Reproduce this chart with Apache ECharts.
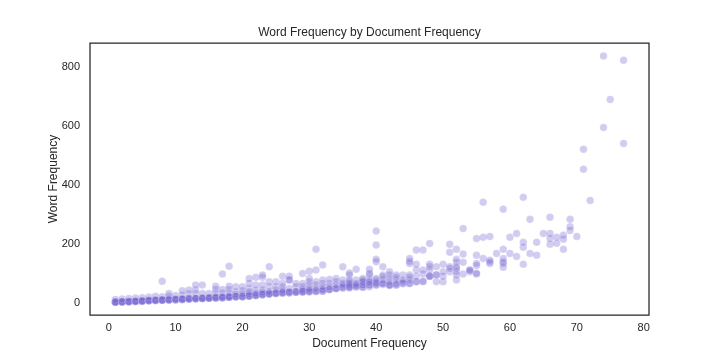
<!DOCTYPE html>
<html><head><meta charset="utf-8">
<script src="https://cdn.jsdelivr.net/npm/echarts@6/dist/echarts.min.js"></script>
<style>html,body{margin:0;padding:0;background:#fff}#c{width:720px;height:360px}</style>
</head><body><div id="c"></div>
<script>
const chartTitle = 'Word Frequency by Document Frequency';
const xLabel = 'Document Frequency';
const yLabel = 'Word Frequency';
const xTicks = [0, 10, 20, 30, 40, 50, 60, 70, 80];
const yTicks = [0, 200, 400, 600, 800];
// document frequency (x) for each column of points
const docFreq = [
  1, 2, 3, 4, 5, 6, 7, 8, 9, 10,
  11, 12, 13, 14, 15, 16, 17, 18, 19, 20,
  21, 22, 23, 24, 25, 26, 27, 28, 29, 30,
  31, 32, 33, 34, 35, 36, 37, 38, 39, 40,
  41, 42, 43, 44, 45, 46, 47, 48, 49, 50,
  51, 52, 53, 54, 55, 56, 57, 58, 59, 60,
  61, 62, 63, 64, 65, 66, 67, 68, 69, 70,
  71, 72, 74, 75, 77
];
// word frequencies of the words sharing each document frequency
const wordFreq = [
  [1,1,1,1,2,11],
  [2,2,2,2,3,12],
  [3,3,3,3,4,14],
  [4,4,4,4,5,16],
  [5,5,5,5,6,17],
  [6,6,6,6,8,19],
  [7,7,7,7,9,22],
  [8,8,8,8,10,20,73],
  [9,9,9,9,11,22,31],
  [10,10,10,10,12,24],
  [11,11,11,11,13,26,40],
  [12,12,12,12,14,30,43],
  [13,13,13,13,15,31,43,60],
  [14,14,14,14,16,31,60],
  [15,15,15,15,17,31],
  [16,16,16,16,19,32,45,56],
  [17,17,17,17,20,33,45,97],
  [18,18,18,18,21,33,45,56,124],
  [20,20,20,20,28,37,54],
  [20,20,20,22,30,40,54],
  [22,22,22,24,30,37,48,65,82],
  [24,24,24,26,32,43,60,86],
  [27,27,27,29,35,43,60,86,94],
  [29,29,29,31,37,54,71,122],
  [31,31,31,33,43,54,71],
  [33,33,33,35,43,54,65,90],
  [34,34,34,37,48,77,77,90],
  [35,35,35,38,54,65],
  [36,36,36,39,45,54,65,99],
  [37,37,38,42,48,60,71,82,107],
  [38,38,40,48,60,71,111,181],
  [39,39,43,45,54,65,77,128],
  [45,45,45,54,65,79],
  [48,48,48,60,71,82],
  [50,50,54,60,65,77,122],
  [50,52,52,56,60,65,71,77,94,101],
  [52,56,56,60,65,77,113],
  [52,52,60,60,68,71,77,82],
  [54,60,60,68,71,77,94,99,113],
  [60,60,65,68,77,82,139,147,196,243],
  [62,65,65,77,88,94,122],
  [58,60,60,71,82,94,105],
  [60,60,65,77,86,94],
  [65,65,71,77,94],
  [65,65,77,86,94,133,140,150],
  [71,71,90,111,130,179],
  [71,73,97,111,179],
  [90,90,90,111,122,130,201],
  [71,94,95,122],
  [71,90,105,130],
  [105,116,122,171,198],
  [77,94,105,116,122,137,147,181],
  [97,137,165,252],
  [105,110,111],
  [97,100,126,133,161,218],
  [150,222,341],
  [133,138,144,225],
  [167],
  [120,133,138,150,181,317],
  [167,222],
  [157,235],
  [130,188,205,358],
  [167,283],
  [161,205],
  [235],
  [198,218,235,290],
  [202,222],
  [181,215,229],
  [245,258,283],
  [225],
  [453,521],
  [347],
  [595,838],
  [690],
  [541,823]
];

const points = [];
docFreq.forEach((d, i) => wordFreq[i].forEach(w => points.push([d, w])));

const textColor = '#262626';
const font = 'Liberation Sans, Arial, sans-serif';
const chart = echarts.init(document.getElementById('c'), null, {renderer: 'canvas'});
chart.setOption({
  animation: false,
  backgroundColor: '#ffffff',
  title: {
    text: chartTitle, left: 369.5, top: 27, textAlign: 'center', padding: 0,
    textStyle: {fontFamily: font, fontSize: 12, fontWeight: 'normal', color: textColor}
  },
  grid: {
    left: 90, right: 71, top: 43, bottom: 45, show: true,
    borderColor: textColor, borderWidth: 1.25, backgroundColor: 'transparent'
  },
  xAxis: {
    type: 'value', min: -2.8, max: 80.8,
    axisLine: {show: false}, axisTick: {show: false}, splitLine: {show: false},
    axisLabel: {customValues: xTicks, margin: 7, fontFamily: font, fontSize: 11, color: textColor},
    name: xLabel, nameLocation: 'middle', nameGap: 23, nameMoveOverlap: false,
    nameTextStyle: {fontFamily: font, fontSize: 12, color: textColor}
  },
  yAxis: {
    type: 'value', min: -42, max: 882,
    axisLine: {show: false}, axisTick: {show: false}, splitLine: {show: false},
    axisLabel: {customValues: yTicks, margin: 10, fontFamily: font, fontSize: 11, color: textColor},
    name: yLabel, nameLocation: 'middle', nameGap: 30, nameMoveOverlap: false,
    nameTextStyle: {fontFamily: font, fontSize: 12, color: textColor}
  },
  series: [{
    type: 'scatter',
    data: points,
    symbolSize: 7.5,
    itemStyle: {color: '#6A5ACD', opacity: 0.3, borderColor: '#ffffff', borderWidth: 0.5},
    emphasis: {disabled: true},
    silent: true
  }]
});
</script></body></html>
